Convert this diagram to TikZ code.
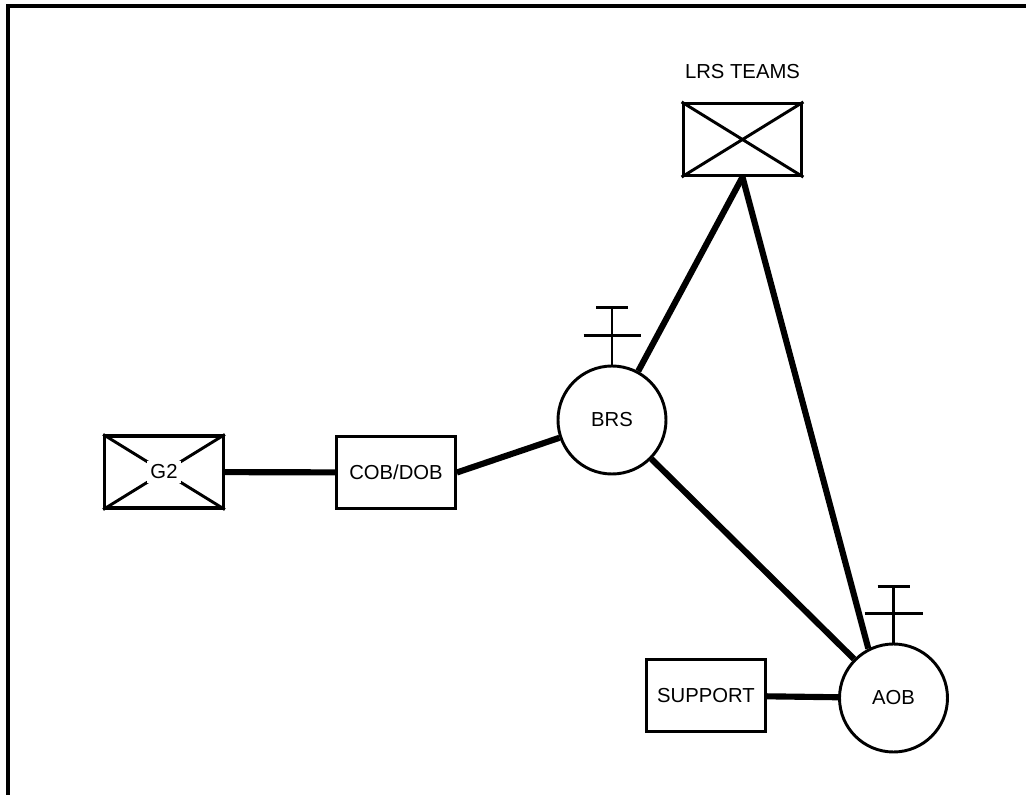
\documentclass[tikz,border=0pt]{standalone}
\usepackage{fontspec}
\setmainfont{Liberation Sans}
\begin{document}
\begin{tikzpicture}[x=0.75pt,y=-0.75pt,
    font=\fontsize{15.2}{18}\selectfont,
    unit/.style={draw, line width=2.3pt, minimum width=89pt, minimum height=54pt, inner sep=0pt},
    station/.style={draw, circle, line width=2.2pt, minimum size=81pt, inner sep=0pt},
    link/.style={line width=4.6pt},
    mast/.style={line width=2.2pt}]
    \useasboundingbox (0,0) rectangle (1026,795);
    % 边框
    \draw[line width=3pt] (8,795) -- (8,6.5) -- (1026,6.5);
    % 单位
    \node[unit] (lrs) at (742.5,139.5) {};
    \draw[mast] (lrs.north west) -- (lrs.south east) (lrs.south west) -- (lrs.north east);
    \node (lrslabel) at (742.5,72) {LRS TEAMS};
    \node[unit] (g2) at (164,472) {};
    \draw[mast] (g2.north west) -- (g2.south east) (g2.south west) -- (g2.north east);
    \node[fill=white, inner sep=2.5pt] (g2label) at (g2) {G2};
    \node[unit] (cob) at (396,472.5) {COB/DOB};
    \node[unit] (sup) at (706,695.5) {SUPPORT};
    % 电台
    \node[station] (brs) at (612,420) {BRS};
    \node[station] (aob) at (893.5,698) {AOB};
    % 天线
    \draw[mast] (brs.north) -- ++(0,-57) ++(-16,0) -- ++(32,0);
    \draw[mast] ([yshift=21.5pt]brs.north) ++(-28.5,0) -- ++(57,0);
    \draw[mast] (aob.north) -- ++(0,-56) ++(-16,0) -- ++(32,0);
    \draw[mast] ([yshift=21.5pt]aob.north) ++(-29,0) -- ++(58,0);
    % 连线
    \draw[link] (g2) -- (cob);
    \draw[link] (cob.east) -- (brs);
    \draw[link] (lrs.south) -- (brs);
    \draw[link] (lrs.south) -- (aob.117);
    \draw[link] (brs) -- (aob);
    \draw[link] (sup) -- (aob);
\end{tikzpicture}
\end{document}
